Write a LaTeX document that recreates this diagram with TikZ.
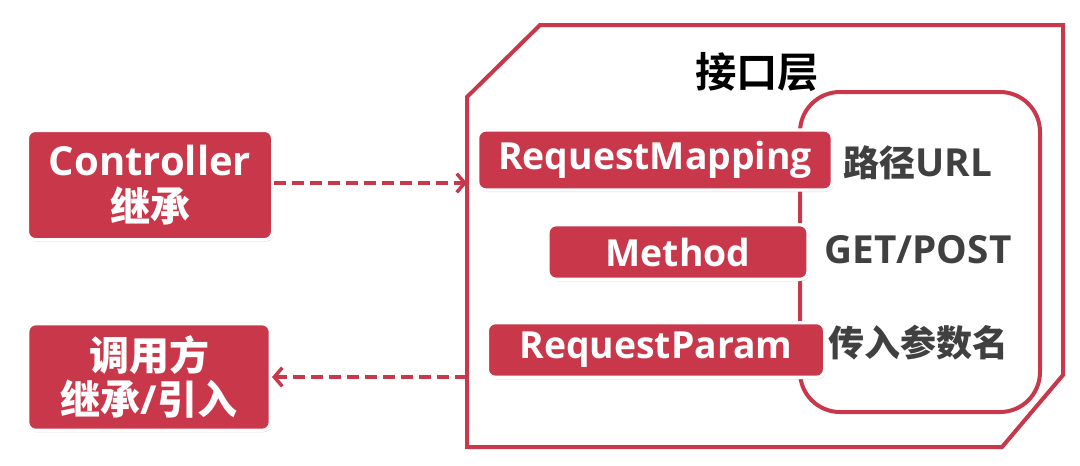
\documentclass[tikz,border=0pt]{standalone}
\usepackage{fontspec}
\setmainfont{Open Sans}
\newfontfamily\cjk{Noto Sans CJK SC Bold}
\usetikzlibrary{arrows.meta, shadows}
\definecolor{apiRed}{RGB}{200,56,74}
\definecolor{apiGray}{RGB}{64,64,64}

\begin{document}
\begin{tikzpicture}[x=0.75pt, y=-0.75pt, line cap=round,
  redbox/.style={fill=apiRed, draw=white, line width=2.5pt, rounded corners=6pt, text=white, inner sep=0pt,
    drop shadow={opacity=0.3, shadow xshift=0.8pt, shadow yshift=-1.5pt},
    font=\bfseries\fontsize{28}{37}\selectfont, align=center},
  graylabel/.style={text=apiGray, font=\bfseries\fontsize{29}{30}\selectfont},
  dasharrow/.style={apiRed, line width=3pt, line cap=butt, dash pattern=on 9pt off 4.5pt,
    -{Straight Barb[length=6pt, width=14pt, line width=2.6pt]}}]
  \useasboundingbox (0,0) rectangle (1080,465);
  % interface layer frame
  \draw[apiRed, line width=3pt, fill=white, drop shadow={opacity=0.2, shadow xshift=1pt, shadow yshift=-1pt}]
    (467,97) -- (540,25) -- (1063,25) -- (1063,375) -- (1002,447) -- (467,447) -- cycle;
  \coordinate (layerW) at (467,0);
  \node[font=\cjk\fontsize{31}{32}\selectfont] (title) at (757,72) {接口层};
  \draw[apiRed, line width=3pt, fill=white, rounded corners=30pt,
    drop shadow={opacity=0.2, shadow xshift=1pt, shadow yshift=-1pt}] (800,92) rectangle (1040,412);

  \node[redbox, minimum width=266pt, minimum height=45pt] (mapping) at (655,160) {RequestMapping};
  \node[redbox, minimum width=195pt, minimum height=41pt] (method) at (678,252) {Method};
  \node[redbox, minimum width=253pt, minimum height=41pt] (param) at (656,350) {RequestParam};

  \node[graylabel] (url) at (918,163) {{\cjk\fontsize{27}{30}\selectfont 路径}URL};
  \node[graylabel] (verb) at (918,250) {GET/POST};
  \node[graylabel] (pname) at (918,343) {\cjk\fontsize{27}{30}\selectfont 传入参数名};

  % outside
  \node[redbox, font=\bfseries\fontsize{30}{39}\selectfont, minimum width=184pt, minimum height=82pt] (ctrl) at (150,185)
    {Controller\\[-4pt]{\cjk 继承}};
  \node[redbox, font=\bfseries\fontsize{30}{39}\selectfont, minimum width=182pt, minimum height=80pt] (caller) at (149,377)
    {{\cjk 调用方}\\[-6pt]{\cjk 继承}/{\cjk 引入}};

  \draw[dasharrow] (ctrl.east |- 0,183) -- (layerW |- 0,183);
  \draw[dasharrow] (layerW |- caller.east) -- (caller.east);
\end{tikzpicture}
\end{document}
